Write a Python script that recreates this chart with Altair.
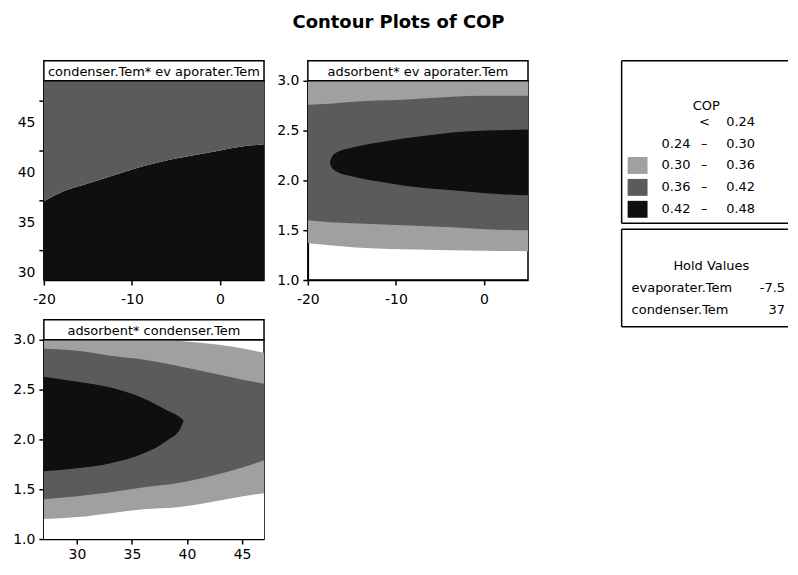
import altair as alt
import pandas as pd

FONT = "DejaVu Sans"
LIGHT, DARK, BLACK = "#a0a0a0", "#5b5b5b", "#0f0f0f"
PW, PH, HH = 221, 200, 20

# ---------------- data ----------------
title_text = "Contour Plots of COP"
headers = ["condenser.Tem* ev aporater.Tem", "adsorbent* ev aporater.Tem", "adsorbent* condenser.Tem"]

# Panel 1: condenser.Tem (y) vs evaporater.Tem (x)
p1_x = [-20, -17.5, -15, -12.5, -10, -7.5, -5, -2.5, 0, 2.5, 5]
p1_edge = [34.9, 36.0, 36.7, 37.4, 38.1, 38.7, 39.2, 39.6, 40.0, 40.4, 40.6]
p1_xdom, p1_ydom = [-20, 5], [27, 47]
p1_xticks, p1_yticks = [-20, -10, 0], [30, 35, 40, 45]

# Panel 2: adsorbent (y) vs evaporater.Tem (x)
p2_x = [-20, -17.5, -14.9, -9.2, -3.6, 0.2, 5]
p2_light_lo = [1.37, 1.35, 1.33, 1.31, 1.30, 1.295, 1.29]
p2_dark_lo = [1.60, 1.58, 1.57, 1.55, 1.53, 1.51, 1.50]
p2_dark_hi = [2.76, 2.77, 2.79, 2.81, 2.84, 2.85, 2.85]
p2_bx = [-17.5, -17.3, -16.75, -14.9, -12, -9.2, -6.5, -3.6, 0.2, 5]
p2_black_hi = [2.18, 2.23, 2.28, 2.33, 2.38, 2.42, 2.45, 2.48, 2.50, 2.51]
p2_black_lo = [2.18, 2.13, 2.09, 2.04, 1.99, 1.95, 1.92, 1.90, 1.87, 1.85]
p2_xdom, p2_ydom = [-20, 5], [1.0, 3.0]

# Panel 3: adsorbent (y) vs condenser.Tem (x)
p3_x = [27, 30.05, 33.06, 36.08, 39.1, 42.1, 45.1, 47]
p3_dark_hi = [2.91, 2.89, 2.84, 2.80, 2.74, 2.67, 2.60, 2.56]
p3_dark_lo = [1.40, 1.43, 1.47, 1.52, 1.56, 1.63, 1.72, 1.79]
p3_light_lo = [1.20, 1.22, 1.26, 1.30, 1.32, 1.37, 1.43, 1.46]
p3_tx = [27, 37.3, 39.1, 41.2, 44.2, 47]
p3_light_hi = [3.0, 3.0, 2.99, 2.97, 2.93, 2.87]
p3_bx = [27, 30.05, 33.06, 36.08, 38.2, 39.4, 39.6, 39.7]
p3_black_hi = [2.63, 2.58, 2.52, 2.41, 2.29, 2.22, 2.20, 2.19]
p3_black_lo = [1.68, 1.71, 1.76, 1.86, 1.99, 2.11, 2.16, 2.19]
p3_xdom, p3_ydom = [27, 47], [1.0, 3.0]
p3_xticks = [30, 35, 40, 45]
ads_ticks = [1.0, 1.5, 2.0, 2.5, 3.0]

legend_title = "COP"
legend_left = ["", "0.24", "0.30", "0.36", "0.42"]
legend_mid = ["<", "\u2013", "\u2013", "\u2013", "\u2013"]
legend_right = ["0.24", "0.30", "0.36", "0.42", "0.48"]
legend_colors = ["white", "white", LIGHT, DARK, BLACK]
hold_title = "Hold Values"
hold_names = ["evaporater.Tem", "condenser.Tem"]
hold_values = ["-7.5", "37"]

HYPHEN = "replace(datum.label, '\u2212', '-')"
one = pd.DataFrame({"a": [0]})


def axes(xticks, yticks, yfmt=None, yoff=0, xpad=4):
    xa = alt.Axis(values=xticks, title=None, labelFlush=False, labelOverlap=False,
                  labelExpr=HYPHEN, labelPadding=xpad)
    kw = dict(values=yticks, title=None, labelOverlap=False, labelFlush=False, labelPadding=4)
    if yfmt:
        kw["format"] = yfmt
    if yoff:
        kw["labelOffset"] = yoff
    return xa, alt.Axis(**kw)


def band(x, lo, hi, color, xdom, ydom, xa, ya):
    df = pd.DataFrame({"x": x, "lo": lo, "hi": hi})
    return alt.Chart(df).mark_area(color=color, clip=True, interpolate="monotone", opacity=1).encode(
        x=alt.X("x:Q", scale=alt.Scale(domain=xdom, nice=False, zero=False), axis=xa),
        y=alt.Y("lo:Q", scale=alt.Scale(domain=ydom, nice=False, zero=False), axis=ya),
        y2="hi:Q",
    )


def header(text):
    d = pd.DataFrame({"t": [text]})
    rect = alt.Chart(d).mark_rect(fill="white", stroke="black", strokeWidth=1.5).encode(
        x=alt.value(0), x2=alt.value(PW), y=alt.value(-HH), y2=alt.value(0))
    txt = alt.Chart(d).mark_text(font=FONT, fontSize=13, color="black", align="center",
                                 baseline="middle").encode(
        x=alt.value(PW / 2), y=alt.value(-HH / 2 + 1), text="t:N")
    return [rect, txt]


def anchor(x, y):
    # invisible 1px marker that pins the page's outer bounds
    return alt.Chart(one).mark_rect(fill="white", opacity=0).encode(
        x=alt.value(x), x2=alt.value(x + 1), y=alt.value(y), y2=alt.value(y + 1))


frame = alt.ViewBackground(stroke="black", strokeWidth=1.5)

# Panel 1
xa, ya = axes(p1_xticks, p1_yticks, yoff=22, xpad=8)
n1 = len(p1_x)
p1_layers = [
    band(p1_x, [p1_ydom[0]] * n1, p1_edge, BLACK, p1_xdom, p1_ydom, xa, ya),
    band(p1_x, p1_edge, [p1_ydom[1]] * n1, DARK, p1_xdom, p1_ydom, xa, ya),
] + header(headers[0])
tdf = pd.DataFrame({"t": [title_text]})
p1_layers.append(alt.Chart(tdf).mark_text(font=FONT, fontSize=18, fontWeight="bold", color="black",
                                          align="center", baseline="middle").encode(
    x=alt.value(356), y=alt.value(-58), text="t:N"))
p1_layers.append(anchor(-35, -71))
p1 = alt.layer(*p1_layers).properties(width=PW, height=PH, view=frame)

# Panel 2
xa, ya = axes(p1_xticks, ads_ticks, yfmt=".1f", xpad=8)
n2 = len(p2_x)
p2 = alt.layer(
    band(p2_x, p2_light_lo, [p2_ydom[1]] * n2, LIGHT, p2_xdom, p2_ydom, xa, ya),
    band(p2_x, p2_dark_lo, p2_dark_hi, DARK, p2_xdom, p2_ydom, xa, ya),
    band(p2_bx, p2_black_lo, p2_black_hi, BLACK, p2_xdom, p2_ydom, xa, ya),
    *header(headers[1]),
).properties(width=PW, height=PH, view=frame)

# Panel 3
xa, ya = axes(p3_xticks, ads_ticks, yfmt=".1f", xpad=4)
n3 = len(p3_x)
p3 = alt.layer(
    band(p3_tx, [p3_ydom[0]] * len(p3_tx), p3_light_hi, LIGHT, p3_xdom, p3_ydom, xa, ya),
    band(p3_x, [p3_ydom[0]] * n3, p3_light_lo, "white", p3_xdom, p3_ydom, xa, ya),
    band(p3_x, p3_dark_lo, p3_dark_hi, DARK, p3_xdom, p3_ydom, xa, ya),
    band(p3_bx, p3_black_lo, p3_black_hi, BLACK, p3_xdom, p3_ydom, xa, ya),
    *header(headers[2]),
    anchor(-35, 222),
).properties(width=PW, height=PH, view=frame)

# Legend / hold values panel (boxes open on the right, cut by the page edge)
LW = 217
leg_layers = []
for top, bot in [(-20, 143), (149, 247)]:
    leg_layers.append(alt.Chart(one).mark_rect(fill="white").encode(
        x=alt.value(50), x2=alt.value(LW), y=alt.value(top), y2=alt.value(bot)))
    for (xa_, xb_, ya_, yb_) in [(50, LW, top, top), (50, LW, bot, bot), (50, 50, top, bot)]:
        leg_layers.append(alt.Chart(one).mark_rule(color="black", strokeWidth=1.5).encode(
            x=alt.value(xa_), x2=alt.value(xb_), y=alt.value(ya_), y2=alt.value(yb_)))


def txt(s, x, y, align="left", size=13):
    d = pd.DataFrame({"t": [s]})
    return alt.Chart(d).mark_text(font=FONT, fontSize=size, color="black", align=align,
                                  baseline="middle").encode(x=alt.value(x), y=alt.value(y), text="t:N")


leg_layers.append(txt(legend_title, 135, 25, "center"))
row0, rstep = 41, 22
for i in range(len(legend_right)):
    y = row0 + i * rstep
    sw = pd.DataFrame({"c": [legend_right[i]]})
    leg_layers.append(alt.Chart(sw).mark_rect().encode(
        x=alt.value(56), x2=alt.value(76), y=alt.value(y - 8.5), y2=alt.value(y + 8.5),
        color=alt.Color("c:N", scale=alt.Scale(domain=legend_right, range=legend_colors), legend=None)))
    if legend_left[i]:
        leg_layers.append(txt(legend_left[i], 119, y, "right"))
    leg_layers.append(txt(legend_mid[i], 133, y, "center"))
    leg_layers.append(txt(legend_right[i], 155, y, "left"))

leg_layers.append(txt(hold_title, 140, 186, "center"))
for j, (nm, vv) in enumerate(zip(hold_names, hold_values)):
    y = 208 + j * 22
    leg_layers.append(txt(nm, 60, y, "left"))
    leg_layers.append(txt(vv, 214, y, "right"))

leg = alt.layer(*leg_layers).properties(width=LW, height=PH)

chart = alt.concat(p1, p2, leg, p3, columns=3, spacing={"row": 60, "column": 44},
                   bounds="flush").properties(
    padding={"left": 0, "top": 0, "right": 0, "bottom": 0},
).configure_view(stroke="transparent").configure_axis(
    domainColor="black", domainWidth=1.5, tickColor="black", tickWidth=1.5, tickSize=5,
    labelFont=FONT, labelFontSize=14, labelColor="black", grid=False,
)

chart.save("out.html", embed_options={"renderer": "svg", "actions": False})
